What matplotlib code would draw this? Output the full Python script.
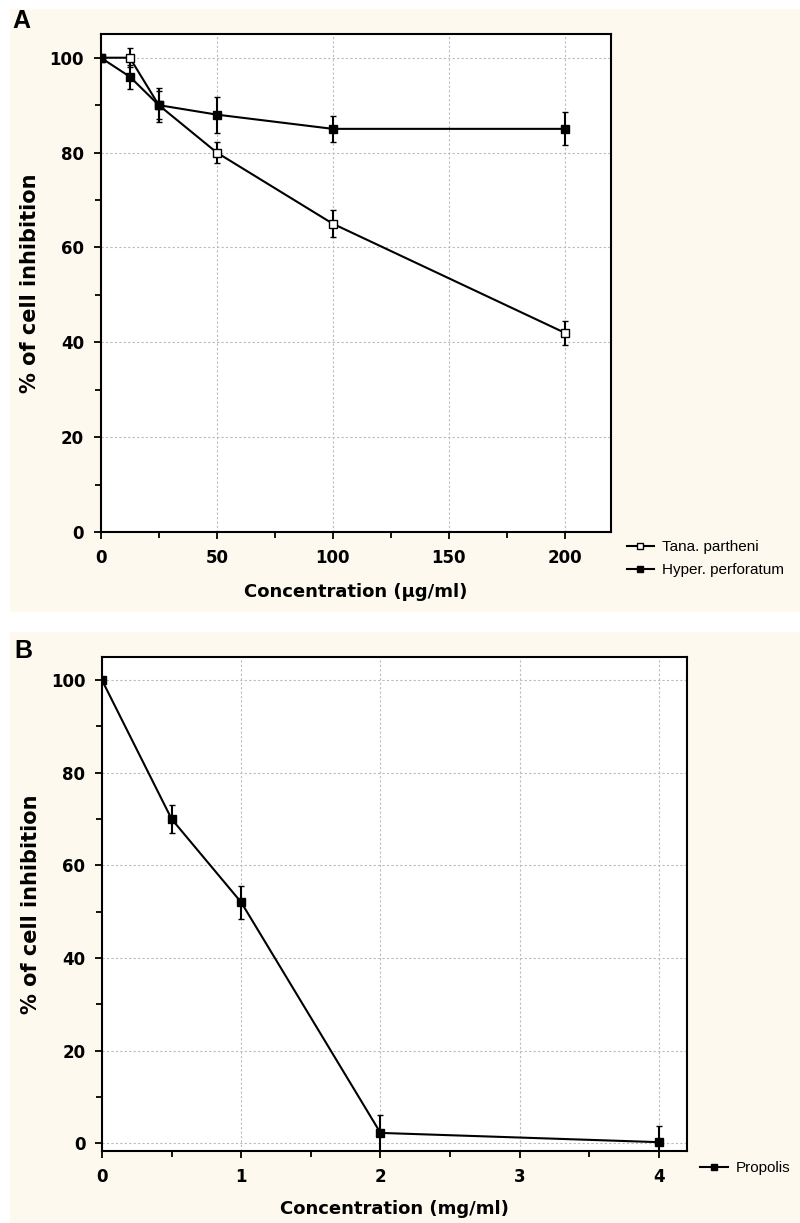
import numpy as np
import matplotlib
matplotlib.use('Agg')
import matplotlib.pyplot as plt
from matplotlib.patches import Rectangle
from matplotlib.lines import Line2D
from matplotlib.ticker import MultipleLocator

plt.rcParams['font.family'] = ['DejaVu Sans']

# panel A data
conc_a     = [0, 12.5, 25, 50, 100, 200]
tana       = [100, 100, 90, 80, 65, 42]
tana_err   = [0, 2.0, 3.0, 2.2, 2.8, 2.5]
hyper      = [100, 96, 90, 88, 85, 85]
hyper_err  = [0, 2.5, 3.6, 3.8, 2.8, 3.5]

# panel B data
conc_b     = [0, 0.5, 1, 2, 4]
propolis   = [100, 70, 52, 2.2, 0.2]
prop_err   = [0, 3.0, 3.5, 3.9, 3.5]

cream = '#fdf9ee'

fig = plt.figure(figsize=(8, 12.23), dpi=100)
fig.patches.append(Rectangle((0.0125, 0.4996), 0.9875, 0.493, transform=fig.transFigure,
                             facecolor=cream, edgecolor='none', zorder=-10))
fig.patches.append(Rectangle((0.0125, 0.0), 0.9875, 0.4832, transform=fig.transFigure,
                             facecolor=cream, edgecolor='none', zorder=-10))

axA = fig.add_axes([0.126, 0.565, 0.638, 0.4072])
axB = fig.add_axes([0.1275, 0.0589, 0.731, 0.4039])

def style(ax):
    ax.set_facecolor('white')
    for s in ax.spines.values():
        s.set_linewidth(1.5)
        s.set_color('black')
    ax.grid(True, which='major', color='#bbbbbb', ls=(0, (2, 2)), lw=0.8)
    ax.set_axisbelow(True)
    ax.tick_params(which='major', direction='out', length=5, width=1.3,
                   labelsize=12, top=False, right=False, pad=7)
    ax.tick_params(which='minor', direction='out', length=4, width=1.3,
                   top=False, right=False)
    for lab in ax.get_xticklabels() + ax.get_yticklabels():
        lab.set_fontweight('bold')
    ax.yaxis.set_major_locator(MultipleLocator(20))
    ax.yaxis.set_minor_locator(MultipleLocator(10))
    ax.set_ylabel('% of cell inhibition', fontsize=15, fontweight='bold', labelpad=7)

def handle(face):
    return Line2D([], [], color='black', lw=1.5, marker='s', ms=5, mfc=face, mec='black', mew=1)

# A
axA.errorbar(conc_a, tana, yerr=tana_err, color='black', lw=1.5, marker='s', ms=6,
             mfc='white', mec='black', mew=1, elinewidth=1.5, capsize=2, zorder=3)
axA.errorbar(conc_a, hyper, yerr=hyper_err, color='black', lw=1.5, marker='s', ms=6,
             mfc='black', mec='black', elinewidth=1.5, capsize=2, zorder=4)
axA.set_xlim(0, 220)
axA.set_ylim(0, 105)
axA.xaxis.set_major_locator(MultipleLocator(50))
axA.xaxis.set_minor_locator(MultipleLocator(25))
style(axA)
axA.set_xlabel('Concentration (\u03bcg/ml)', fontsize=13, fontweight='bold', labelpad=12)
axA.legend([handle('white'), handle('black')], ['Tana. partheni', 'Hyper. perforatum'],
           loc='center left', bbox_to_anchor=(0.766, 0.543), bbox_transform=fig.transFigure,
           frameon=False, handlelength=1.8, handletextpad=0.5,
           labelspacing=0.6, prop={'family': 'Liberation Sans', 'size': 11})

# B
axB.errorbar(conc_b, propolis, yerr=prop_err, color='black', lw=1.5, marker='s', ms=6,
             mfc='black', mec='black', elinewidth=1.5, capsize=2, zorder=3)
axB.set_xlim(0, 4.2)
axB.set_ylim(-1.7, 105)
axB.xaxis.set_major_locator(MultipleLocator(1))
axB.xaxis.set_minor_locator(MultipleLocator(0.5))
style(axB)
axB.set_xlabel('Concentration (mg/ml)', fontsize=13, fontweight='bold', labelpad=10)
axB.legend([handle('black')], ['Propolis'],
           loc='center left', bbox_to_anchor=(0.858, 0.045), bbox_transform=fig.transFigure,
           frameon=False, handlelength=1.8, handletextpad=0.5,
           prop={'family': 'Liberation Sans', 'size': 11})

fig.text(0.016, 0.983, 'A', fontsize=18, fontweight='bold', va='center',
         family='Liberation Sans')
fig.text(0.018, 0.468, 'B', fontsize=18, fontweight='bold', va='center',
         family='Liberation Sans')

fig.savefig('out.png', dpi=100)
